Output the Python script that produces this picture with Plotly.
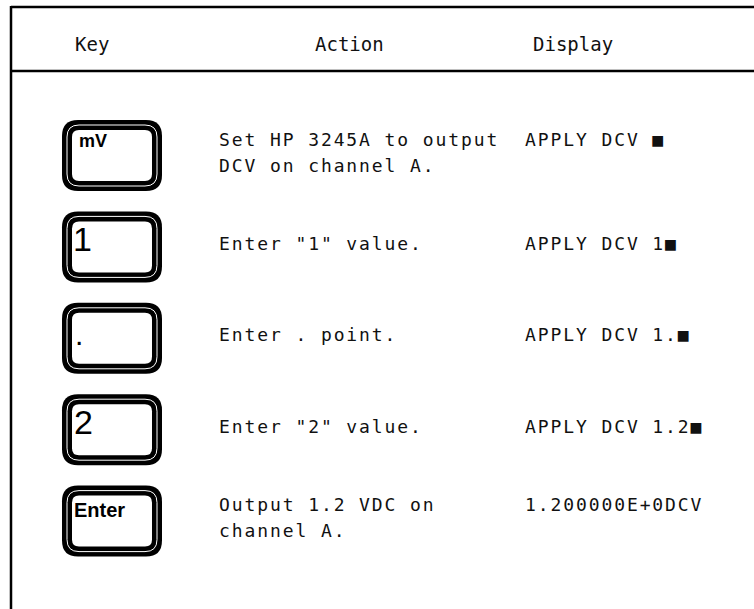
import plotly.graph_objects as go

# ---- data ----
headers = ["Key", "Action", "Display"]
key_labels = ["mV", "1", ".", "2", "Enter"]
actions = [
    ["Set HP 3245A to output", "DCV on channel A."],
    ['Enter "1" value.'],
    ["Enter . point."],
    ['Enter "2" value.'],
    ["Output 1.2 VDC on", "channel A."],
]
displays = ["APPLY DCV ■", "APPLY DCV 1■", "APPLY DCV 1.■", "APPLY DCV 1.2■", "1.200000E+0DCV"]

# ---- layout constants (pixels) ----
W, H = 754, 609
ROW0, ROW_STEP = 155.5, 91.4
KEY_X0, KEY_X1, KEY_H = 62, 162, 71
TEXT_DY = -3.5
ACTION_X, DISPLAY_X = 217, 523
LINE_H = 26
HEADER_Y = 44
HEADER_X = [92, 349, 573]
TOP_Y, HDR_LINE_Y, LEFT_X = 7, 71, 11
MONO = "DejaVu Sans Mono"
BODY_SIZE, HEAD_SIZE = 18, 19
INK = "#111111"

label_style = {
    "mV":    dict(size=18, bold=True, dx=15, dy=21),
    "1":     dict(size=34, bold=False, dx=9, dy=28),
    ".":     dict(size=30, bold=False, dx=11, dy=32),
    "2":     dict(size=34, bold=False, dx=10, dy=28),
    "Enter": dict(size=20, bold=True, dx=10, dy=24),
}


def rr(x0, y0, x1, y1, r):
    return (f"M {x0 + r},{y0} L {x1 - r},{y0} Q {x1},{y0} {x1},{y0 + r} "
            f"L {x1},{y1 - r} Q {x1},{y1} {x1 - r},{y1} L {x0 + r},{y1} "
            f"Q {x0},{y1} {x0},{y1 - r} L {x0},{y0 + r} Q {x0},{y0} {x0 + r},{y0} Z")


fig = go.Figure()
shapes = []
annotations = []

# borders
line = dict(color="black", width=2.5)
shapes.append(dict(type="line", x0=LEFT_X, x1=W, y0=TOP_Y, y1=TOP_Y, line=line))
shapes.append(dict(type="line", x0=LEFT_X, x1=W, y0=HDR_LINE_Y, y1=HDR_LINE_Y, line=line))
shapes.append(dict(type="line", x0=LEFT_X, x1=LEFT_X, y0=TOP_Y - 1, y1=H, line=line))

# headers
for hx, text in zip(HEADER_X, headers):
    annotations.append(dict(x=hx, y=HEADER_Y, text=text, showarrow=False,
                            xanchor="center", yanchor="middle",
                            font=dict(family=MONO, size=HEAD_SIZE, color=INK)))

for i, (lab, act, disp) in enumerate(zip(key_labels, actions, displays)):
    cy = ROW0 + i * ROW_STEP
    y0, y1 = cy - KEY_H / 2, cy + KEY_H / 2
    x0, x1 = KEY_X0, KEY_X1
    # key cap: outer black, thin white ring, inner white face
    shapes.append(dict(type="path", path=rr(x0, y0, x1, y1, 16),
                       fillcolor="black", line=dict(width=0)))
    shapes.append(dict(type="path", path=rr(x0 + 5, y0 + 5, x1 - 5, y1 - 5, 12),
                       fillcolor="rgba(0,0,0,0)", line=dict(color="white", width=1.0)))
    shapes.append(dict(type="path", path=rr(x0 + 10, y0 + 10, x1 - 10, y1 - 10, 7),
                       fillcolor="white", line=dict(width=0)))
    st = label_style[lab]
    annotations.append(dict(x=x0 + st["dx"], y=y0 + st["dy"],
                            text=(f"<b>{lab}</b>" if st["bold"] else lab),
                            showarrow=False, xanchor="left", yanchor="middle", align="left",
                            font=dict(family="Liberation Sans", size=st["size"], color="black")))
    # action text
    tc = cy + TEXT_DY
    first_y = tc - (len(act) - 1) * LINE_H / 2
    for j, t in enumerate(act):
        annotations.append(dict(x=ACTION_X, y=first_y + j * LINE_H, text=t, showarrow=False,
                                xanchor="left", yanchor="middle", align="left",
                                font=dict(family=MONO, size=BODY_SIZE, color=INK)))
    annotations.append(dict(x=DISPLAY_X, y=first_y, text=disp, showarrow=False,
                            xanchor="left", yanchor="middle", align="left",
                            font=dict(family=MONO, size=BODY_SIZE, color=INK)))

fig.update_layout(
    width=W, height=H,
    margin=dict(l=0, r=0, t=0, b=0),
    paper_bgcolor="white", plot_bgcolor="white",
    xaxis=dict(range=[0, W], visible=False, fixedrange=True),
    yaxis=dict(range=[H, 0], visible=False, fixedrange=True),
    shapes=shapes, annotations=annotations, showlegend=False,
)

post = """
document.body.style.margin='0';
document.body.style.overflow='hidden';
document.querySelectorAll('text.annotation-text').forEach(function(t){
  var ff = t.style.fontFamily || '';
  var fs = t.style.fontSize || '';
  if (ff.indexOf('Mono') >= 0 && fs === '%dpx') { t.style.letterSpacing = '1.9px'; }
});
""" % BODY_SIZE
fig.write_html("out.html", post_script=post, config={"displayModeBar": False})
